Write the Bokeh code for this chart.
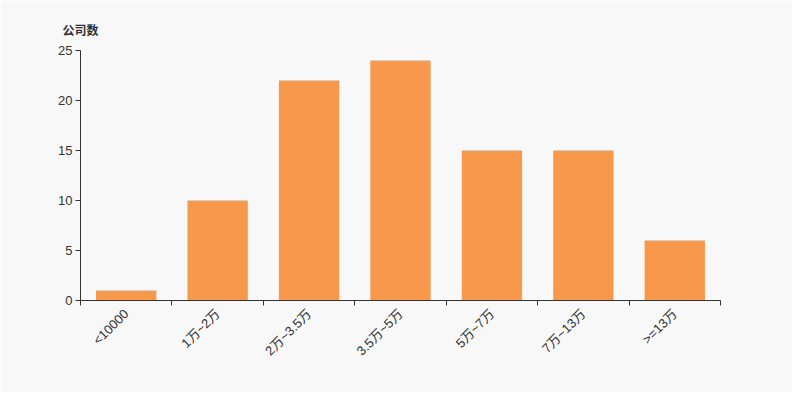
import math
from bokeh.plotting import figure
from bokeh.models import ColumnDataSource, FixedTicker, CustomJSTickFormatter, Range1d
from bokeh.embed import file_html
from bokeh.resources import INLINE

categories = ["<10000", "1万~2万", "2万~3.5万", "3.5万~5万", "5万~7万", "7万~13万", ">=13万"]
counts = [1, 10, 22, 24, 15, 15, 6]
y_ticks = [0, 5, 10, 15, 20, 25]

FONT = "Liberation Sans, Noto Sans CJK SC"
BG = "#f8f8f8"
AXIS = "#333333"

xs = [i + 0.5 for i in range(len(categories))]
src = ColumnDataSource(dict(x=xs, top=counts, label=categories))

p = figure(width=792, height=392, output_backend="svg", toolbar_location=None,
           x_range=Range1d(0, len(categories)), y_range=Range1d(0, 25),
           min_border_left=80, min_border_right=72, min_border_top=50, min_border_bottom=92)
p.title.text = "公司数"
p.title.text_font = FONT
p.title.text_font_size = "12px"
p.title.text_font_style = "bold"
p.title.text_color = "#333333"
p.title.align = "left"
p.title.offset = -18
p.title.standoff = 25

p.background_fill_color = BG
p.border_fill_color = BG
p.outline_line_color = None
p.grid.visible = False

p.vbar(x="x", top="top", width=0.66, source=src, color="#f7984a", line_color=None)

xa = p.xaxis[0]
xa.ticker = FixedTicker(ticks=xs, minor_ticks=list(range(len(categories) + 1)))
xa.formatter = CustomJSTickFormatter(args=dict(labels=categories),
                                     code="return labels[Math.floor(tick)] || '';")
xa.major_label_orientation = math.pi / 4
xa.major_tick_in = 0
xa.major_tick_out = 0
xa.minor_tick_in = 0
xa.minor_tick_out = 5
xa.minor_tick_line_color = AXIS
xa.axis_line_color = AXIS
xa.major_label_text_font = FONT
xa.major_label_text_font_size = "13px"
xa.major_label_text_color = "#333333"
xa.major_label_standoff = 6

ya = p.yaxis[0]
ya.ticker = FixedTicker(ticks=y_ticks)
ya.major_tick_in = 0
ya.major_tick_out = 5
ya.minor_tick_line_color = None
ya.axis_line_color = AXIS
ya.major_tick_line_color = AXIS
ya.major_label_text_font = FONT
ya.major_label_text_font_size = "13px"
ya.major_label_text_color = "#333333"
ya.major_label_standoff = 3

open("out.html", "w").write(file_html(p, INLINE))
